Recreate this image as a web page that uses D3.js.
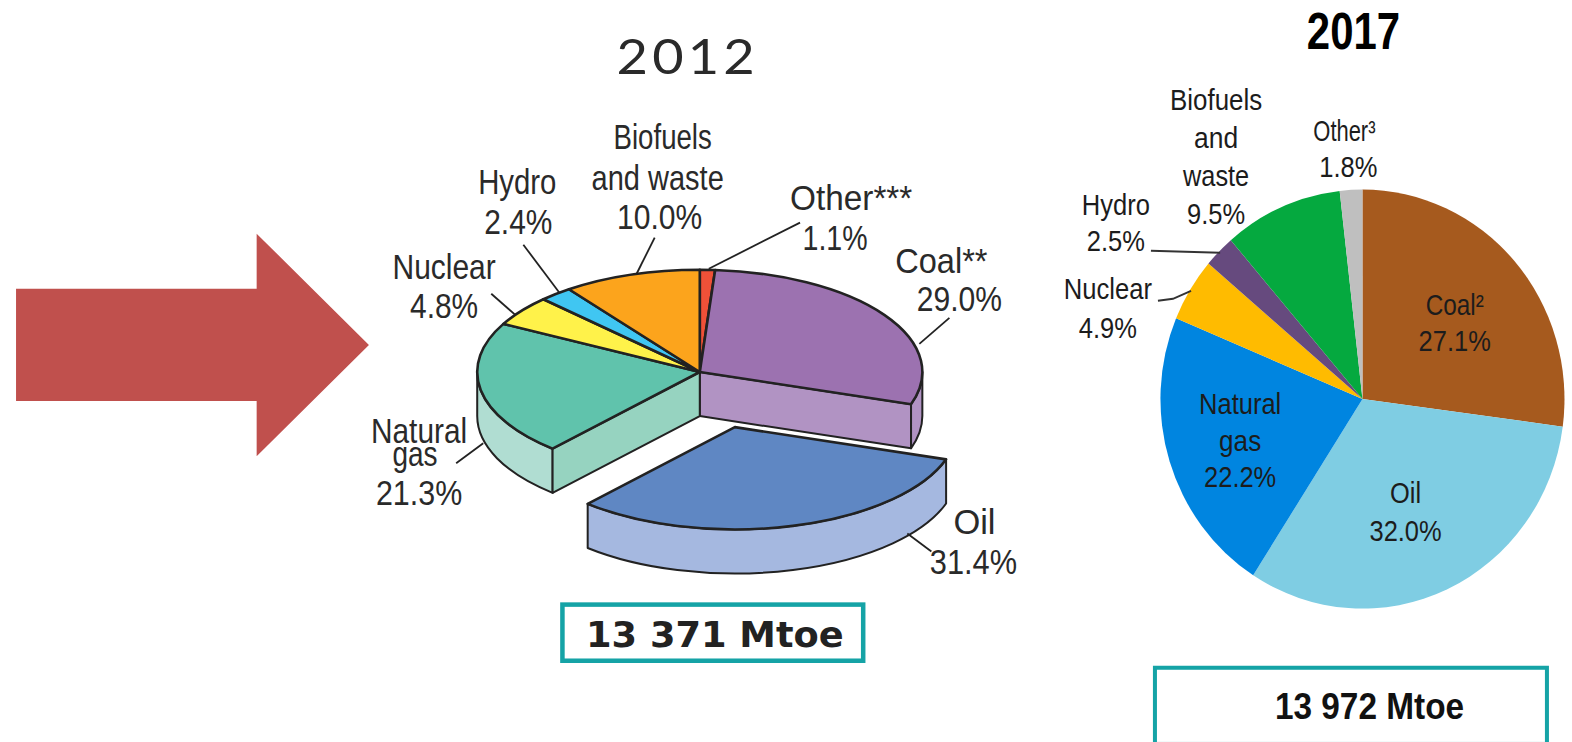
<!DOCTYPE html>
<html><head><meta charset="utf-8">
<script src="https://cdn.jsdelivr.net/npm/d3@7"></script>
<style>html,body{margin:0;padding:0;background:#fff;overflow:hidden}svg{display:block}</style>
</head><body><svg id="c" width="1572" height="742" viewBox="0 0 1568 740"></svg>
<script>
const categories2012 = ["Other***","Coal**","Oil","Natural gas","Nuclear","Hydro","Biofuels and waste"];
const values2012 = [1.1,29.0,31.4,21.3,4.8,2.4,10.0];
const topColors2012 = ["#ef5138","#9c72b0","#5f87c3","#60c3ac","#fff24a","#40c6f2","#fca41c"];
const rimColors2012 = ["#ef5138","#b193c3","#a5b8e0","#b0ddd2","#fff24a","#40c6f2","#fca41c"];
const wallColors2012 = {"Coal**":"#b193c3","Natural gas":"#96d3c0"};
const categories2017 = ["Coal","Oil","Natural gas","Nuclear","Hydro","Biofuels and waste","Other"];
const values2017 = [27.1,32.0,22.2,4.9,2.5,9.5,1.8];
const colors2017 = ["#a65a1e","#7fcde3","#0085e0","#ffbb00","#664a7e","#05a93f","#bfbfbf"];
const titles = ["2012","2017"];
const totals = ["13 371 Mtoe","13 972 Mtoe"];
// [text, centre x, baseline y, width]
const labels2012 = [["Biofuels",661,149,98],["and waste",656,189,132],["10.0%",658,228,85],["Hydro",516,193,78],["2.4%",517,233,68],
 ["Nuclear",443,278,103],["4.8%",443,317,68],["Other***",849,209,122],["1.1%",833,249,65],["Coal**",939,272,92],["29.0%",957,310,85],
 ["Natural",418,442,96],["gas",414,465,45],["21.3%",418,504,86],["Oil",972,533,42],["31.4%",971,572,87]];
const labels2017 = [["Biofuels",1213,110,92],["and",1213,148,44],["waste",1213,185,66],["9.5%",1213,223,58],["Other³",1341,141,62],["1.8%",1345,177,58],
 ["Hydro",1113,214,68],["2.5%",1113,250,58],["Nuclear",1105,298,88],["4.9%",1105,337,58],["Coal²",1451,314,58],["27.1%",1451,350,72],
 ["Natural",1237,413,82],["gas",1237,450,42],["22.2%",1237,486,72],["Oil",1402,502,31],["32.0%",1402,540,72]];
const leaders2012 = [[[490,293],[514,314]],[[522,244],[558,292]],[[653,237],[635,273]],[[798,222],[707,268]],[[947,317],[917,343]],[[455,462],[482,442]],[[929,550],[905,532]]];
const leaders2017 = [[[1148,250],[1217,252]],[[1155,300],[1170,298],[1188,290]]];

const svg = d3.select("#c");
const ink = "#222";
// arrow
svg.append("path").attr("d","M16,288H256V233L368,344L256,455V400H16Z").attr("fill","#c0504d");

// ---- 2012
const P12 = {cx:698, cy:371, rx:222, ry:102, depth:44, dx:35, dy:55};
const pie = d3.pie().sort(null).value(d=>d.v);
const arcs12 = pie(values2012.map((v,i)=>({v,name:categories2012[i],top:topColors2012[i],rim:rimColors2012[i]})));
const pt = (a,o={x:0,y:0})=>[P12.cx+o.x+P12.rx*Math.sin(a), P12.cy+o.y-P12.ry*Math.cos(a)];
const topArc = d3.arc().innerRadius(0).outerRadius(P12.rx);
function rimPath(a0,a1,o){
  const s=Math.max(a0,Math.PI/2), e=Math.min(a1,3*Math.PI/2);
  if(e<=s) return null;
  const p0=pt(s,o),p1=pt(e,o),{rx,ry,depth:h}=P12;
  return `M${p0}A${rx},${ry} 0 0 1 ${p1}L${p1[0]},${p1[1]+h}A${rx},${ry} 0 0 0 ${p0[0]},${p0[1]+h}Z`;
}
function wallPath(a,o){
  const p=pt(a,o),c=[P12.cx+o.x,P12.cy+o.y],h=P12.depth;
  return `M${c}L${p}L${p[0]},${p[1]+h}L${c[0]},${c[1]+h}Z`;
}
const g12=svg.append("g").attr("stroke",ink).attr("stroke-width",2).attr("stroke-linejoin","round");
const zero={x:0,y:0}, off={x:P12.dx,y:P12.dy};
const still=arcs12.filter(d=>d.data.name!=="Oil"), oil=arcs12.filter(d=>d.data.name==="Oil");
still.forEach(d=>{const r=rimPath(d.startAngle,d.endAngle,zero); if(r) g12.append("path").attr("d",r).attr("fill",d.data.rim);});
arcs12.forEach(d=>{
  if(d.data.name==="Coal**") g12.append("path").attr("d",wallPath(d.endAngle,zero)).attr("fill",wallColors2012[d.data.name]);
  if(d.data.name==="Natural gas") g12.append("path").attr("d",wallPath(d.startAngle,zero)).attr("fill",wallColors2012[d.data.name]);
});
const drawTop=(d,o)=>g12.append("path").attr("d",topArc(d))
  .attr("transform",`translate(${P12.cx+o.x},${P12.cy+o.y}) scale(1,${P12.ry/P12.rx})`)
  .attr("fill",d.data.top).attr("vector-effect","non-scaling-stroke").attr("stroke-width",2.6);
still.forEach(d=>drawTop(d,zero));
oil.forEach(d=>{g12.append("path").attr("d",rimPath(d.startAngle,d.endAngle,off)).attr("fill",d.data.rim);drawTop(d,off);});

const line=d3.line();
svg.append("g").selectAll("path").data(leaders2012).join("path").attr("d",line).attr("fill","none").attr("stroke",ink).attr("stroke-width",1.8);
const fit=(sel)=>sel.attr("x",d=>d[1]).attr("y",d=>d[2]).attr("textLength",d=>d[3]).attr("lengthAdjust","spacingAndGlyphs").text(d=>d[0]);
const lab12=svg.append("g").attr("text-anchor","middle").attr("fill","#2a2a2a").attr("font-family","'Liberation Sans',sans-serif").attr("font-size",35);
fit(lab12.selectAll("text").data(labels2012).join("text"));
svg.append("text").attr("transform","translate(686,74) scale(1.04,0.94)").attr("text-anchor","middle").attr("font-family","Lato,sans-serif").attr("font-size",52).attr("letter-spacing",4).attr("fill","#2a2a2a").text(titles[0]);
svg.append("rect").attr("x",561).attr("y",603).attr("width",300).attr("height",56).attr("fill","none").attr("stroke","#15a3a6").attr("stroke-width",4.5);
svg.append("text").attr("x",713).attr("y",645).attr("text-anchor","middle").attr("textLength",257).attr("lengthAdjust","spacingAndGlyphs").attr("font-family","'DejaVu Sans',sans-serif").attr("font-weight",700).attr("font-size",36).attr("fill","#222").text(totals[0]);

// ---- 2017
const P17={cx:1359,cy:398,rx:201.5,ry:209};
const arcs17=pie(values2017.map((v,i)=>({v,name:categories2017[i],c:colors2017[i]})));
const arc17=d3.arc().innerRadius(0).outerRadius(P17.rx);
svg.append("g").attr("transform",`translate(${P17.cx},${P17.cy}) scale(1,${P17.ry/P17.rx})`)
 .selectAll("path").data(arcs17).join("path").attr("d",arc17).attr("fill",d=>d.data.c);
svg.append("g").selectAll("path").data(leaders2017).join("path").attr("d",line).attr("fill","none").attr("stroke","#333").attr("stroke-width",2);
const lab17=svg.append("g").attr("text-anchor","middle").attr("fill","#1c1c1c").attr("font-family","'Liberation Sans',sans-serif").attr("font-size",29);
fit(lab17.selectAll("text").data(labels2017).join("text"));
svg.append("text").attr("transform","translate(1350,49) scale(0.89,1.08)").attr("text-anchor","middle").attr("font-family","'Liberation Sans',sans-serif").attr("font-weight",700).attr("font-size",47).attr("fill","#000").text(titles[1]);
svg.append("rect").attr("x",1152).attr("y",666).attr("width",391).attr("height",76).attr("fill","none").attr("stroke","#15a3a6").attr("stroke-width",4);
svg.append("text").attr("transform","translate(1366,717) scale(0.90,1)").attr("text-anchor","middle").attr("font-family","'Liberation Sans',sans-serif").attr("font-weight",700).attr("font-size",37).attr("fill","#111").text(totals[1]);
</script></body></html>
